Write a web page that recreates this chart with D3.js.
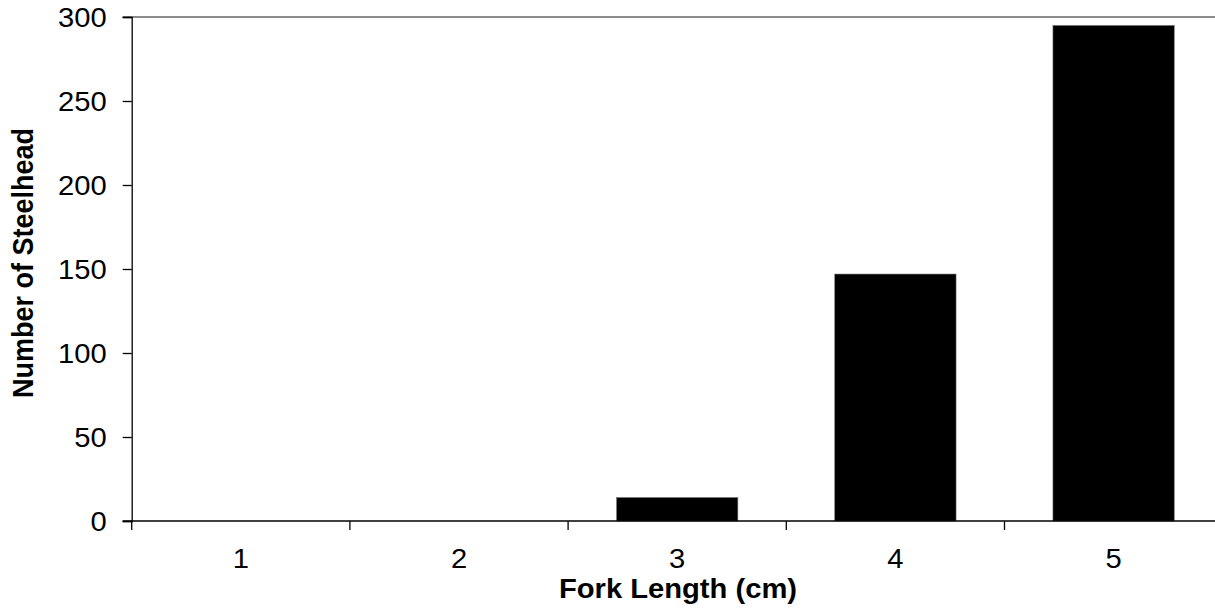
<!DOCTYPE html>
<html>
<head>
<meta charset="utf-8">
<script src="https://cdn.jsdelivr.net/npm/d3@7"></script>
<style>
  html, body { margin: 0; padding: 0; background: #fff; }
  svg { display: block; }
  text { font-family: "Liberation Sans", Arial, sans-serif; }
</style>
</head>
<body>
<script>
const categories = ["1", "2", "3", "4", "5"];
const counts = [0, 0, 14, 147, 295];
const yTicks = [0, 50, 100, 150, 200, 250, 300];
const xTitle = "Fork Length (cm)";
const yTitle = "Number of Steelhead";

(function () {
const W = 1215, H = 609;
const pLeft = 131.7, pRight = 1222.7, pTop = 17, pBottom = 521;
const sx = 1.08; // horizontal stretch of the original rendering

const svg = d3.select("body").append("svg").attr("width", W).attr("height", H);

const x = d3.scaleBand().domain(categories).range([pLeft, pRight])
  .paddingInner(0.444).paddingOuter(0.222);
const y = d3.scaleLinear().domain([0, 300]).range([pBottom, pTop]);
const step = x.step();

// top line (gray)
svg.append("line")
  .attr("x1", pLeft - 9).attr("x2", pRight).attr("y1", y(300)).attr("y2", y(300))
  .attr("stroke", "#666").attr("stroke-width", 1.6);

// bars
svg.append("g").selectAll("rect").data(categories).join("rect")
  .attr("x", d => x(d))
  .attr("width", x.bandwidth())
  .attr("y", (d, i) => y(counts[i]))
  .attr("height", (d, i) => y(0) - y(counts[i]))
  .attr("fill", "#000")
  .attr("stroke", "#777").attr("stroke-width", 0.6);

// y axis
const yAxis = svg.append("g").attr("transform", `translate(${pLeft},0)`)
  .call(d3.axisLeft(y).tickValues(yTicks).tickSize(9).tickPadding(16));
yAxis.select(".domain").attr("stroke", "#000").attr("stroke-width", 1.3);
yAxis.selectAll(".tick line").attr("stroke", "#000").attr("stroke-width", 1.3);
yAxis.selectAll(".tick text")
  .attr("font-family", "'Liberation Sans', Arial, sans-serif")
  .attr("font-size", 27).attr("fill", "#000").attr("dy", "0.36em")
  .attr("x", -25 / sx)
  .attr("transform", `scale(${sx},1)`);

// x axis line
svg.append("line")
  .attr("x1", pLeft - 9).attr("x2", pRight).attr("y1", pBottom).attr("y2", pBottom)
  .attr("stroke", "#000").attr("stroke-width", 1.3);

// x boundary ticks
const boundaries = categories.map(d => x(d) - step * 0.222).concat([pRight]);
svg.append("g").selectAll("line").data(boundaries).join("line")
  .attr("x1", d => d).attr("x2", d => d)
  .attr("y1", pBottom).attr("y2", pBottom + 9)
  .attr("stroke", "#000").attr("stroke-width", 1.3);

// x labels
svg.append("g").selectAll("text").data(categories).join("text")
  .attr("transform", d => `translate(${x(d) + x.bandwidth() / 2},568) scale(${sx},1)`)
  .attr("text-anchor", "middle")
  .attr("font-size", 27).attr("fill", "#000")
  .text(d => d);

// titles
svg.append("text")
  .attr("transform", `translate(678,598) scale(${sx},1)`)
  .attr("text-anchor", "middle")
  .attr("font-size", 27).attr("font-weight", "bold").attr("fill", "#000")
  .text(xTitle);

svg.append("text")
  .attr("transform", `translate(33,263) scale(${sx},1) rotate(-90)`)
  .attr("text-anchor", "middle")
  .attr("font-size", 27).attr("font-weight", "bold").attr("fill", "#000")
  .text(yTitle);
})();
</script>
</body>
</html>
